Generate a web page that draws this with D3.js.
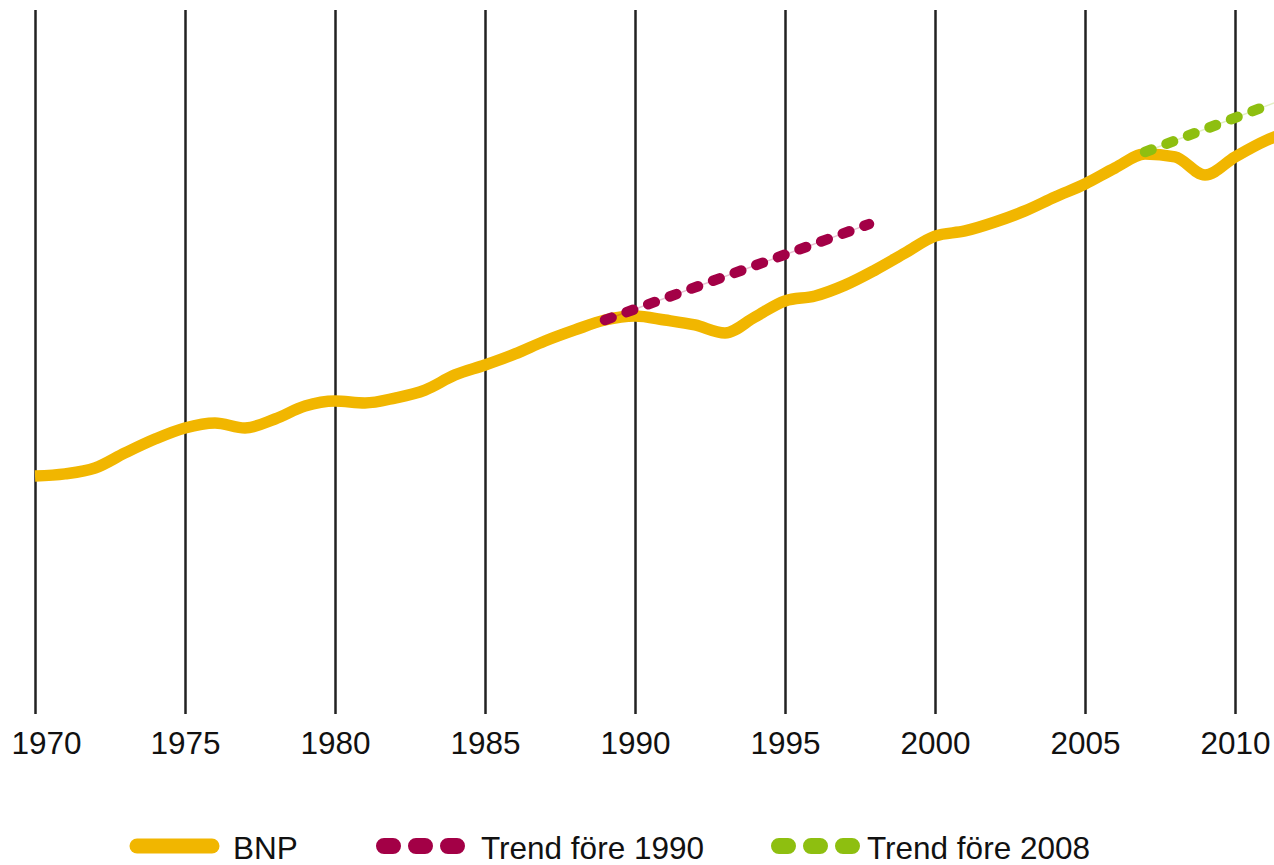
<!DOCTYPE html>
<html>
<head>
<meta charset="utf-8">
<script src="https://cdn.jsdelivr.net/npm/d3@7"></script>
<style>
  body { margin: 0; background: #fff; }
  svg { display: block; font-family: "Liberation Sans", Arial, sans-serif; }
</style>
</head>
<body>
<svg id="chart" width="1274" height="865"></svg>
<script>
// Data (index, 1970 ~ 100)
const years = d3.range(1970, 2013);
const bnp = [101.4, 102.3, 104.8, 111.2, 117.1, 121.8, 123.9, 121.8, 125.6, 131.1,
             133.2, 132.4, 134.5, 137.9, 144.3, 148.5, 153.2, 158.7, 163.4, 167.6,
             169.3, 167.6, 165.5, 162.1, 168.9, 175.7, 177.8, 182.4, 188.8, 196.0,
             203.2, 205.4, 209.2, 213.9, 219.8, 225.3, 232.1, 238.0, 236.8, 229.1,
             236.8, 243.6, 248.2];
const trend1990Years = [1989, 1997.8];
const trend1990 = [167.6, 208.3];
const trend2008Years = [2007, 2011.3];
const trend2008 = [238.9, 259.7];
const tickYears = [1970, 1975, 1980, 1985, 1990, 1995, 2000, 2005, 2010];

const colors = {bnp: "#f1b600", t90: "#a30046", t08: "#8ebf10"};

const svg = d3.select("#chart");
const width = 1274;
const gridTop = 10, gridBottom = 714;

const x = d3.scaleLinear().domain([1970, 2011.3]).range([35, 1274]);
const y = d3.scaleLinear().domain([0, 300]).range([715, 8]);

// clip so the line stops at the right edge
svg.append("clipPath").attr("id", "plot")
  .append("rect").attr("x", 0).attr("y", 0).attr("width", width).attr("height", gridBottom);

// vertical gridlines + year labels
const xAxis = d3.axisBottom(x)
  .tickValues(tickYears)
  .tickFormat(d3.format("d"))
  .tickSizeInner(-(gridBottom - gridTop))
  .tickSizeOuter(0)
  .tickPadding(18);

const gx = svg.append("g")
  .attr("transform", `translate(0, ${gridBottom})`)
  .call(xAxis);
gx.select(".domain").remove();
gx.selectAll(".tick line").attr("stroke", "#222").attr("stroke-width", 2.5);
gx.selectAll(".tick text")
  .attr("fill", "#111")
  .style("font-size", "31.5px")
  .attr("dx", d => d === 1970 ? 11 : 0);

const line = d3.line()
  .x(d => x(d[0]))
  .y(d => y(d[1]));

// BNP
svg.append("path")
  .datum(years.map((yr, i) => [yr, bnp[i]]))
  .attr("clip-path", "url(#plot)")
  .attr("fill", "none")
  .attr("stroke", colors.bnp)
  .attr("stroke-width", 11.5)
  .attr("stroke-linejoin", "round")
  .attr("d", line.curve(d3.curveMonotoneX));

// trend lines
function drawTrend(xs, vals, color) {
  const pts = xs.map((yr, i) => [yr, vals[i]]);
  const straight = d3.line().x(d => x(d[0])).y(d => y(d[1]));
  svg.append("path")
    .datum(pts)
    .attr("fill", "none")
    .attr("stroke", color)
    .attr("stroke-opacity", 0.25)
    .attr("stroke-width", 1.5)
    .attr("d", straight);
  svg.append("path")
    .datum(pts)
    .attr("fill", "none")
    .attr("stroke", color)
    .attr("stroke-width", 10.5)
    .attr("stroke-linecap", "round")
    .attr("stroke-dasharray", "7,16")
    .attr("d", straight);
}
drawTrend(trend1990Years, trend1990, colors.t90);
drawTrend(trend2008Years, trend2008, colors.t08);

// legend
const legendY = 846;
const legend = [
  {label: "BNP", color: colors.bnp, x0: 137, x1: 212, dash: null, tx: 233},
  {label: "Trend före 1990", color: colors.t90, x0: 384, x1: 457, dash: "9,23", tx: 481},
  {label: "Trend före 2008", color: colors.t08, x0: 779, x1: 852, dash: "9,23", tx: 867}
];
const lg = svg.append("g");
legend.forEach(d => {
  lg.append("line")
    .attr("x1", d.x0).attr("x2", d.x1)
    .attr("y1", legendY).attr("y2", legendY)
    .attr("stroke", d.color)
    .attr("stroke-width", d.dash ? 16 : 15)
    .attr("stroke-linecap", "round")
    .attr("stroke-dasharray", d.dash);
  lg.append("text")
    .attr("x", d.tx)
    .attr("y", legendY + 13)
    .attr("fill", "#111")
    .style("font-size", "31.5px")
    .text(d.label);
});
</script>
</body>
</html>
